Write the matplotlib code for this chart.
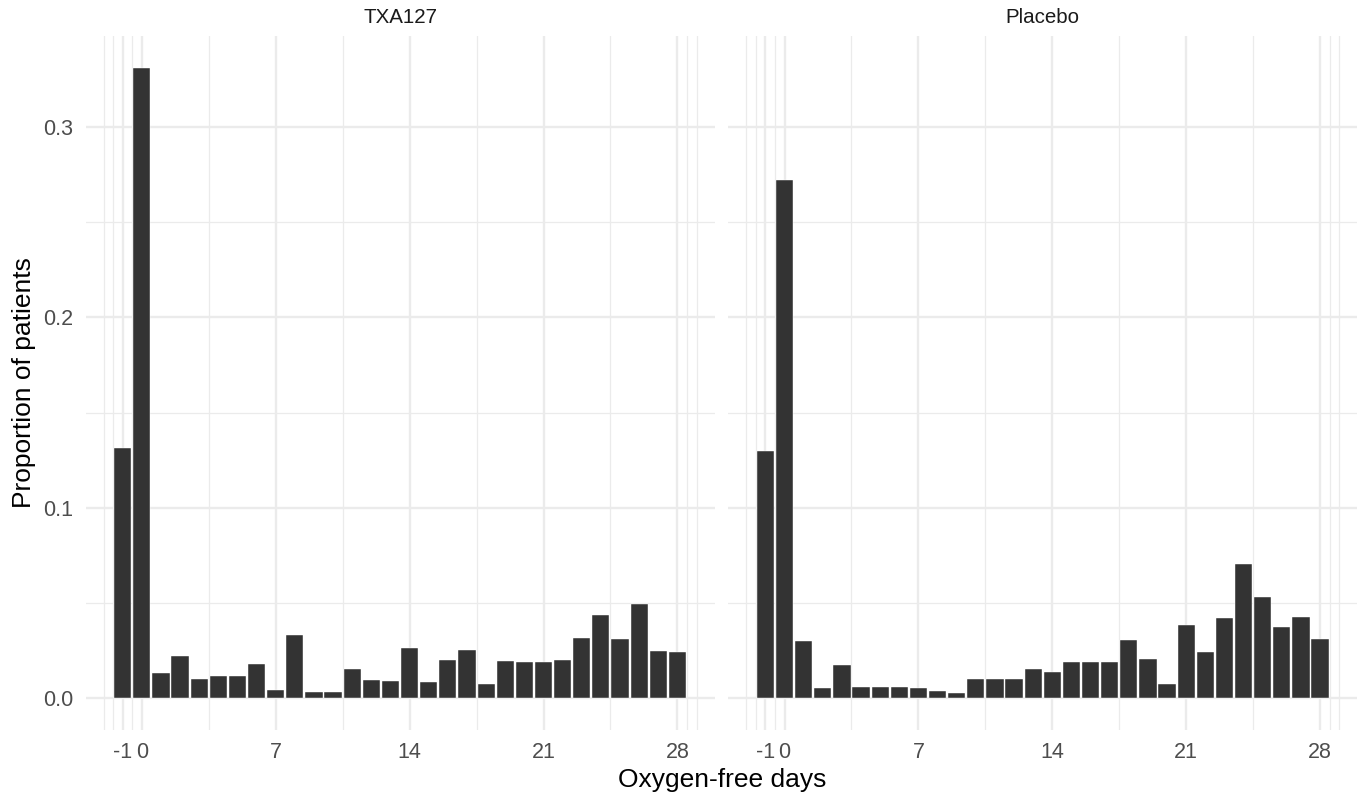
import matplotlib
matplotlib.use("Agg")
import matplotlib.pyplot as plt
import numpy as np

plt.rcParams['font.family'] = ['Liberation Sans', 'DejaVu Sans']

# 数据 (x: 无氧天数, -1 = 死亡)
days = list(range(-1, 29))
txa127 = [0.1314, 0.3312, 0.0132, 0.0224, 0.0104, 0.0120, 0.0120, 0.0179, 0.0047, 0.0332,
          0.0036, 0.0036, 0.0156, 0.0099, 0.0090, 0.0266, 0.0087, 0.0201, 0.0255, 0.0078,
          0.0198, 0.0193, 0.0191, 0.0201, 0.0316, 0.0436, 0.0311, 0.0498, 0.0247, 0.0243]
placebo = [0.1298, 0.2722, 0.0299, 0.0054, 0.0174, 0.0061, 0.0061, 0.0061, 0.0054, 0.0038,
           0.0031, 0.0101, 0.0101, 0.0101, 0.0156, 0.0141, 0.0193, 0.0193, 0.0193, 0.0307,
           0.0205, 0.0078, 0.0384, 0.0245, 0.0422, 0.0707, 0.0531, 0.0377, 0.0427, 0.0314]
panels = ["TXA127", "Placebo"]
x_breaks = [-1, 0, 7, 14, 21, 28]
x_minor = [-2, -1.5, -0.5, 3.5, 10.5, 17.5, 24.5, 28.5, 29]
y_breaks = [0.0, 0.1, 0.2, 0.3]
y_minor = [0.05, 0.15, 0.25]

W, H = 1363, 794
fig = plt.figure(figsize=(W / 100, H / 100), dpi=100)

ymax = max(max(txa127), max(placebo))
ylim = (-0.05 * ymax, 1.05 * ymax)
xlim = (-1.45 - 0.05 * 29.9, 28.45 + 0.05 * 29.9)

grid_col = "#EBEBEB"
lefts = [85.5, 728.2]
pw = 629.1
top, bottom = 36, 730

for i, (name, vals) in enumerate(zip(panels, [txa127, placebo])):
    ax = fig.add_axes([lefts[i] / W, 1 - bottom / H, pw / W, (bottom - top) / H])
    ax.set_xlim(xlim)
    ax.set_ylim(ylim)
    for v in x_minor:
        ax.axvline(v, color=grid_col, lw=0.9, zorder=0)
    for v in y_minor:
        ax.axhline(v, color=grid_col, lw=0.9, zorder=0)
    for v in x_breaks:
        ax.axvline(v, color=grid_col, lw=1.7, zorder=0)
    for v in y_breaks:
        ax.axhline(v, color=grid_col, lw=1.7, zorder=0)
    ax.bar(days, vals, width=0.9, color="#333333", edgecolor="white", linewidth=0.3, zorder=2)
    for s in ax.spines.values():
        s.set_visible(False)
    ax.set_xticks(x_breaks)
    ax.set_xticklabels([str(b) for b in x_breaks])
    ax.set_yticks(y_breaks)
    ax.set_yticklabels(["%.1f" % b for b in y_breaks] if i == 0 else [])
    ax.tick_params(length=0, labelsize=15.5, labelcolor="#4D4D4D")
    ax.tick_params(axis='x', pad=8.5)
    ax.tick_params(axis='y', pad=9)
    ax.set_facecolor("white")
    fig.text((lefts[i] + pw / 2) / W, 1 - 23.3 / H, name, ha='center', va='baseline',
             fontsize=14.8, color="#1A1A1A")

fig.text(24 / W, 1 - 383 / H, "Proportion of patients", rotation=90, ha='center', va='center',
         fontsize=19, color="black")
fig.text(722 / W, 1 - 787 / H, "Oxygen-free days", ha='center', va='baseline',
         fontsize=19, color="black")

fig.savefig("out.png", dpi=100, facecolor="white")
